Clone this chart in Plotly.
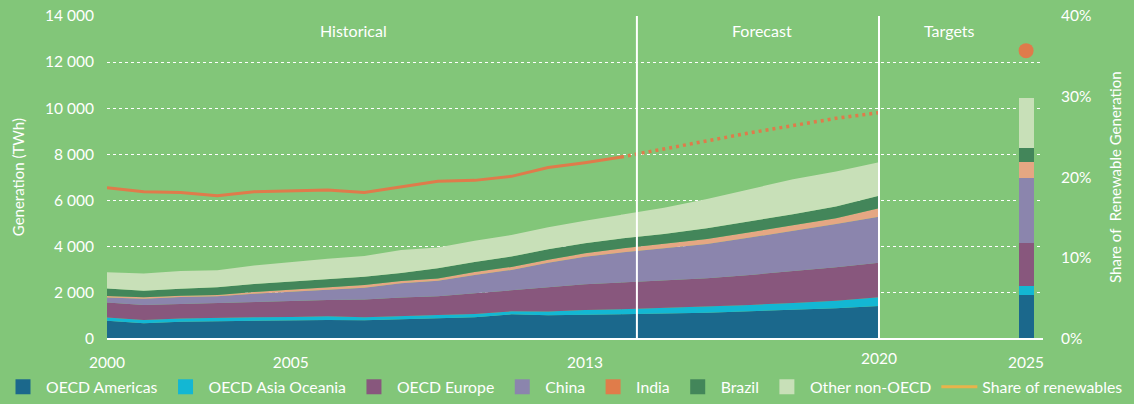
import plotly.graph_objects as go

# historical generation (TWh), 2000-2014
hist_years = list(range(2000, 2015))
hist_americas = [760, 650, 720, 740, 750, 780, 795, 780, 840, 870, 910, 1040, 1000, 1030, 1045]
hist_asia = [140, 145, 145, 160, 160, 145, 160, 130, 130, 145, 145, 130, 160, 200, 215]
hist_europe = [650, 650, 620, 620, 665, 695, 710, 770, 800, 810, 900, 930, 1055, 1115, 1160]
hist_china = [220, 275, 305, 305, 360, 405, 450, 520, 620, 680, 795, 870, 1070, 1200, 1305]
hist_india = [70, 60, 60, 60, 75, 85, 85, 115, 100, 90, 130, 130, 130, 145, 175]
hist_brazil = [320, 290, 305, 330, 345, 350, 375, 360, 350, 450, 435, 450, 450, 435, 435]
hist_other = [710, 750, 770, 740, 810, 855, 885, 900, 1000, 900, 925, 940, 955, 985, 1030]
hist_share = [18.7, 18.2, 18.1, 17.7, 18.2, 18.3, 18.4, 18.1, 18.8, 19.5, 19.6, 20.1, 21.2, 21.8, 22.5]

# forecast generation (TWh), 2014-2020
fc_years = list(range(2014, 2021))
fc_americas = [1045, 1070, 1115, 1175, 1230, 1305, 1405]
fc_asia = [215, 245, 260, 275, 305, 330, 375]
fc_europe = [1160, 1190, 1230, 1305, 1375, 1450, 1505]
fc_china = [1305, 1390, 1490, 1620, 1755, 1885, 2000]
fc_india = [175, 200, 215, 230, 245, 245, 360]
fc_brazil = [435, 435, 465, 465, 480, 505, 550]
fc_other = [1030, 1145, 1275, 1420, 1520, 1520, 1450]
fc_share = [22.5, 23.5, 24.6, 25.5, 26.4, 27.3, 28.0]

# 2025 targets
target_year = [2025]
target_values = [1870, 415, 1855, 2835, 680, 610, 2170]
target_share = [35.7]

regions = ["OECD Americas", "OECD Asia Oceania", "OECD Europe", "China", "India", "Brazil", "Other non-OECD"]
colors = ["#1b688c", "#13b7d3", "#88577d", "#8b85ad", "#e5a783", "#43865a", "#c8e0b8"]
legend_colors = ["#1b688c", "#13b7d3", "#88577d", "#8b85ad", "#e07c4a", "#43865a", "#c8e0b8"]

hist = [hist_americas, hist_asia, hist_europe, hist_china, hist_india, hist_brazil, hist_other]
fc = [fc_americas, fc_asia, fc_europe, fc_china, fc_india, fc_brazil, fc_other]

bg = "#82c679"
line_col = "#df7b4b"
font = "Lato"

fig = go.Figure()

for name, col, lcol, h, f, t in zip(regions, colors, legend_colors, hist, fc, target_values):
    fig.add_trace(go.Scatter(x=hist_years, y=h, stackgroup="hist", mode="lines", line=dict(width=0, color=col),
                             fillcolor=col, showlegend=False, hoverinfo="skip"))
    fig.add_trace(go.Scatter(x=fc_years, y=f, stackgroup="fc", mode="lines", line=dict(width=0, color=col),
                             fillcolor=col, showlegend=False, xaxis="x2", yaxis="y", hoverinfo="skip"))
    fig.add_trace(go.Bar(x=target_year, y=[t], name=name, marker=dict(color=col, line=dict(width=0)),
                         width=0.41, showlegend=False))
    # legend entry with a square swatch
    fig.add_trace(go.Scatter(x=[None], y=[None], mode="markers", name=name,
                             marker=dict(symbol="square", size=15, color=lcol)))

fig.add_trace(go.Scatter(x=hist_years, y=hist_share, mode="lines", line=dict(color=line_col, width=3),
                         yaxis="y2", showlegend=False))
fig.add_trace(go.Scatter(x=fc_years, y=fc_share, mode="lines", line=dict(color=line_col, width=3.5, dash="3px,4px"),
                         xaxis="x2", yaxis="y2", showlegend=False))
fig.add_trace(go.Scatter(x=target_year, y=target_share, mode="markers", marker=dict(color=line_col, size=15),
                         yaxis="y2", showlegend=False))
fig.add_trace(go.Scatter(x=[None], y=[None], mode="lines", name="Share of renewables",
                         line=dict(color="#e8b34b", width=3), yaxis="y2"))

# section separators
for xv in [2014.37, 2020]:
    fig.add_shape(type="line", xref="x2", yref="y", x0=xv, x1=xv, y0=0, y1=14000,
                  line=dict(color="white", width=2))

for txt, xr, xv in [("Historical", "x", 2006.7), ("Forecast", "x2", 2017.27), ("Targets", "x2", 2021.65)]:
    fig.add_annotation(text=txt, x=xv, y=0.9233, xref=xr, yref="paper", showarrow=False, yanchor="middle",
                       font=dict(color="white", size=16, family=font))

x_dom = [107 / 1134, 1043 / 1134]
y_dom = [65.7 / 404, 388 / 404]

fig.update_layout(
    width=1134, height=404,
    margin=dict(l=0, r=0, t=0, b=0),
    paper_bgcolor=bg, plot_bgcolor=bg,
    barmode="stack",
    separators=". ",
    font=dict(family=font, color="white", size=15),
    xaxis=dict(domain=x_dom, range=[2000, 2025.46], tickvals=[2000, 2005, 2013, 2025], showgrid=False,
               zeroline=False, showline=True, linecolor="white", linewidth=2, ticks="", ticklabelstandoff=9,
               automargin=False, tickfont=dict(size=15.5, color="white")),
    xaxis2=dict(range=[2002.047, 2023.814], overlaying="x", tickvals=[2020], showgrid=False, zeroline=False,
                showline=False, ticks="", ticklabelstandoff=9, automargin=False,
                tickfont=dict(size=15.5, color="white")),
    yaxis=dict(domain=y_dom, range=[0, 14000], tickvals=list(range(0, 14001, 2000)), tickformat=",",
               showgrid=True, gridcolor="white", griddash="dot", gridwidth=1, zeroline=False, ticks="",
               ticklabelstandoff=12, automargin=False,
               title=dict(text="Generation (TWh)", standoff=16, font=dict(size=15, color="white")),
               tickfont=dict(size=15.5, color="white")),
    yaxis2=dict(domain=y_dom, range=[0, 40], overlaying="y", side="right",
                tickvals=[0, 10, 20, 30, 40], ticktext=["0%", "10%", "20%", "30%", "40%"],
                showgrid=False, zeroline=False, ticks="", ticklabelstandoff=17, automargin=False,
                title=dict(text="Share of  Renewable Generation", standoff=20, font=dict(size=15, color="white")),
                tickfont=dict(size=15.5, color="white")),
    legend=dict(orientation="h", x=0, xanchor="left", y=0, yanchor="bottom", traceorder="normal",
                itemsizing="trace", itemwidth=36, font=dict(size=15.8, color="white", family=font),
                bgcolor="rgba(0,0,0,0)"),
    showlegend=True,
)

# page body margin would offset the figure inside the window
fig.write_html("out.html", config={"displayModeBar": False},
               post_script="document.body.style.margin='0px';")
